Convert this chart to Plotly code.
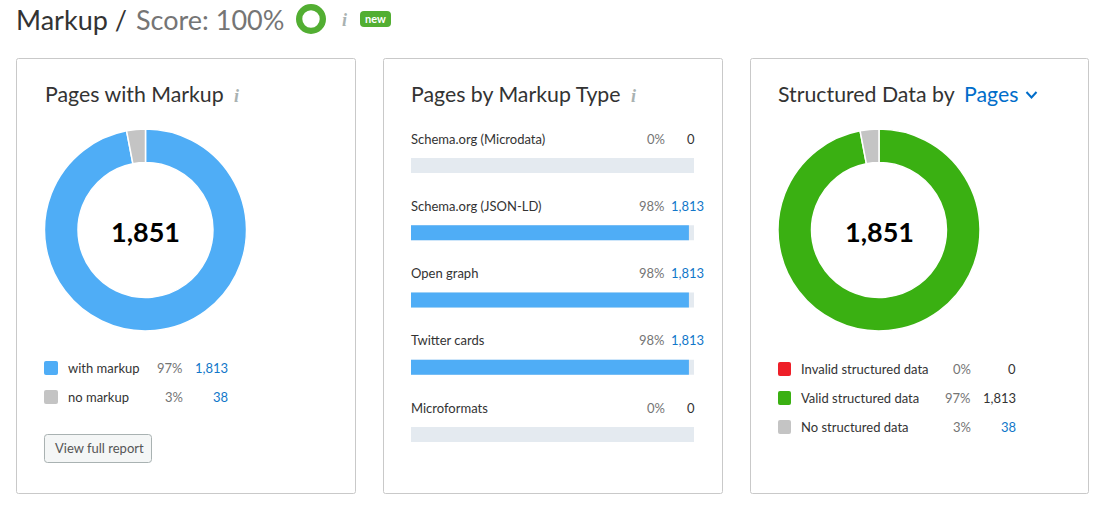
import plotly.graph_objects as go

W, H = 1108, 507
FONT = "Lato"

# ---- data ----
markup_labels = ["with markup", "no markup"]
markup_values = [1813, 38]
markup_pct = [97, 3]
markup_colors = ["#4fadf6", "#c4c4c4"]
markup_total = "1,851"

type_labels = ["Schema.org (Microdata)", "Schema.org (JSON-LD)", "Open graph", "Twitter cards", "Microformats"]
type_pct = [0, 98, 98, 98, 0]
type_fill = [0, 98.2, 98.2, 98.2, 0]
type_counts = [0, 1813, 1813, 1813, 0]
type_track = [100, 100, 100, 100, 100]

struct_labels = ["Invalid structured data", "Valid structured data", "No structured data"]
struct_values = [0, 1813, 38]
struct_pct = [0, 97, 3]
struct_colors = ["#ee1f28", "#3ab012", "#c4c4c4"]
struct_total = "1,851"

score_values = [100]
score_text = "Score: 100%"


def px(x):
    return x / W


def py(y):
    return 1 - y / H


anns, shapes = [], []


def text(x, y, s, size=13, color="#333333", anchor="left", family=FONT, **kw):
    anns.append(dict(x=px(x), y=py(y), xref="paper", yref="paper", text=s, showarrow=False,
                     xanchor=anchor, yanchor="middle", borderpad=0,
                     font=dict(size=size, color=color, family=family), **kw))


def rrect(x0, y0, x1, y1, r, fill, line=None, lw=1):
    X = lambda v: f"{px(v):.6f}"
    Y = lambda v: f"{py(v):.6f}"
    path = (f"M{X(x0+r)},{Y(y0)} L{X(x1-r)},{Y(y0)} Q{X(x1)},{Y(y0)} {X(x1)},{Y(y0+r)} "
            f"L{X(x1)},{Y(y1-r)} Q{X(x1)},{Y(y1)} {X(x1-r)},{Y(y1)} "
            f"L{X(x0+r)},{Y(y1)} Q{X(x0)},{Y(y1)} {X(x0)},{Y(y1-r)} "
            f"L{X(x0)},{Y(y0+r)} Q{X(x0)},{Y(y0)} {X(x0+r)},{Y(y0)} Z")
    shapes.append(dict(type="path", xref="paper", yref="paper", path=path, fillcolor=fill,
                       line=dict(color=line or fill, width=lw if line else 0), layer="below"))


def info(x, y):
    text(x, y, "<b><i>i</i></b>", size=18, color="#a9b2b2", anchor="center", family="Liberation Serif")


fig = go.Figure()


def pie(values, colors, x0, x1, y0, y1, hole, line_w=1.5):
    fig.add_trace(go.Pie(values=values, marker=dict(colors=colors, line=dict(color="white", width=line_w)),
                         sort=False, direction="clockwise", rotation=0, hole=hole, textinfo="none",
                         hoverinfo="skip", showlegend=False,
                         domain=dict(x=[px(x0), px(x1)], y=[py(y1), py(y0)])))


LEG = 13

# cards
for x0, x1 in [(16.5, 355.5), (383.5, 722.5), (750.5, 1088.5)]:
    rrect(x0, 58.5, x1, 493.5, 2, "#ffffff", "#c9c9c9", 1)

# header
text(15, 20, "Markup /", size=27)
text(135, 20, score_text, size=27, color="#757575")
pie(score_values, ["#52ae32"], 296, 326, 4, 34, 0.58, 0)
info(344, 20)
rrect(360, 11, 391, 27, 4, "#52ae32")
text(375.5, 18.5, "<b>new</b>", size=11, color="#ffffff", anchor="center")

# card 1
text(44, 94, "Pages with Markup", size=21.3, color="#333333")
info(236, 96)
pie(markup_pct, markup_colors, 44.5, 246.5, 129, 331, 0.668)
text(145, 231.5, f"<b>{markup_total}</b>", size=27, color="#000000", anchor="center")
for i, lab in enumerate(markup_labels):
    y = 368 + 29 * i
    rrect(44, y - 7, 58, y + 7, 2, markup_colors[i])
    text(66.5, y, lab, size=LEG, color="#333333")
    text(184, y, f"{markup_pct[i]}%", size=LEG, color="#757575", anchor="right")
    text(228.5, y, f"{markup_values[i]:,}", size=LEG, color="#1277c9", anchor="right")
rrect(44.5, 434.5, 151.5, 462.5, 3, "#f4f6f6", "#a9b2b2", 1)
text(53.5, 448, "View full report", size=LEG, color="#555555")

# card 2
text(409.5, 94, "Pages by Markup Type", size=21.3, color="#333333")
info(633, 96)
ROW_TOP, ROW_H = 132, 67.2
ydom = [py(ROW_TOP + ROW_H * 5), py(ROW_TOP)]
for vals, col in [(type_track, "#e4eaf0"), (type_fill, "#4fadf6")]:
    fig.add_trace(go.Bar(y=type_labels, x=vals, orientation="h", marker=dict(color=col, line=dict(width=0)),
                         hoverinfo="skip", showlegend=False))
for i, lab in enumerate(type_labels):
    y = [139, 206, 273, 340, 408][i]
    text(409.5, y, lab, size=LEG, color="#333333")
    text(665.5, y, f"{type_pct[i]}%", size=LEG, color="#757575", anchor="right")
    c = type_counts[i]
    text(705 if c else 695.5, y, f"{c:,}", size=LEG, color="#1277c9" if c else "#333333", anchor="right")

# card 3
text(776.5, 94, "Structured Data by", size=21.3, color="#333333")
text(962.5, 94, "Pages", size=21.3, color="#006dca")
X, Y = px, py
shapes.append(dict(type="path", xref="paper", yref="paper",
                   path=f"M{X(1026.5):.6f},{Y(92):.6f} L{X(1031.5):.6f},{Y(97.5):.6f} L{X(1036.5):.6f},{Y(92):.6f}",
                   line=dict(color="#006dca", width=2)))
pie(struct_pct, struct_colors, 778, 980, 129, 331, 0.668)
text(879, 231.5, f"<b>{struct_total}</b>", size=27, color="#000000", anchor="center")
for i, lab in enumerate(struct_labels):
    y = 369 + 29 * i
    rrect(778, y - 7, 791, y + 7, 2, struct_colors[i])
    text(799.5, y, lab, size=LEG, color="#333333")
    text(971.5, y, f"{struct_pct[i]}%", size=LEG, color="#757575", anchor="right")
    v = struct_values[i]
    text(1016.5, y, f"{v:,}", size=LEG, color="#1277c9" if v == 38 else "#333333", anchor="right")

fig.update_layout(
    width=W, height=H, margin=dict(l=0, r=0, t=0, b=0), autosize=False,
    paper_bgcolor="white", plot_bgcolor="white", barmode="overlay", bargap=1 - 15 / ROW_H,
    annotations=anns, shapes=shapes, showlegend=False,
    xaxis=dict(domain=[px(411), px(694)], range=[0, 100], visible=False, fixedrange=True),
    yaxis=dict(domain=ydom, autorange="reversed", visible=False, fixedrange=True, type="category"),
    font=dict(family=FONT),
)
fig.write_html("out.html", config=dict(displayModeBar=False),
               post_script="document.body.style.margin='0';document.body.style.overflow='hidden';")
